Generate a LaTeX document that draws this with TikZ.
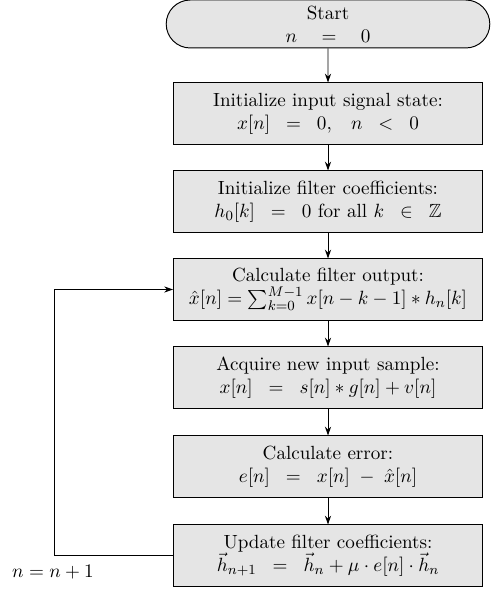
\documentclass[tikz,border=0pt]{standalone}
\usepackage{amsmath,amssymb}
\usetikzlibrary{shapes.misc,arrows.meta}
\begin{document}
\begin{tikzpicture}[x=0.5714pt,y=-0.5714pt,line width=0.55pt,
  every node/.style={font=\fontsize{10.9}{13.1}\selectfont},
  procbox/.style={draw,fill=black!10,minimum width=176.6pt,minimum height=34.9pt,align=center,inner sep=2pt},
  startbox/.style={draw,fill=black!10,rounded rectangle,minimum width=186.9pt,minimum height=27.4pt,align=center,inner sep=1pt},
  conn/.style={-{Stealth[length=5pt,width=3.5pt]}}]
\useasboundingbox (0,0) rectangle (498,589);
\node[startbox] (s) at (328,24) {Start\\ $n \quad = \quad 0$};
\node[procbox] (b1) at (328,113.5) {Initialize input signal state:\\ $x[n] \;\;=\;\; 0, \;\;\; n \;\;<\;\; 0$};
\node[procbox] (b2) at (328,201.5) {Initialize filter coefficients:\\ $h_0[k] \;\;=\;\; 0 \text{ for all } k \;\;\in\;\; \mathbb{Z}$};
\node[procbox] (b3) at (328,289.5) {Calculate filter output:\\ $\hat{x}[n] = \sum_{k=0}^{M-1} x[n-k-1] * h_n[k]$};
\node[procbox] (b4) at (328,377.5) {Acquire new input sample:\\ $x[n] \;\;=\;\; s[n] * g[n] + v[n]$};
\node[procbox] (b5) at (328,466.5) {Calculate error:\\ $e[n] \;\;=\;\; x[n] \;-\; \hat{x}[n]$};
\node[procbox] (b6) at (328,555.5) {Update filter coefficients:\\ $\vec{h}_{n+1} \;\;=\;\; \vec{h}_n + \mu \cdot e[n] \cdot \vec{h}_n$};
\coordinate (lp) at (54,0);
\node (lbl) at (53,572) {$n = n+1$};
\draw[conn] (s) -- (b1);
\draw[conn] (b1) -- (b2);
\draw[conn] (b2) -- (b3);
\draw[conn] (b3) -- (b4);
\draw[conn] (b4) -- (b5);
\draw[conn] (b5) -- (b6);
\draw[conn] (b6.west) -| (lp |- b3.west) -- (b3.west);
\end{tikzpicture}
\end{document}
